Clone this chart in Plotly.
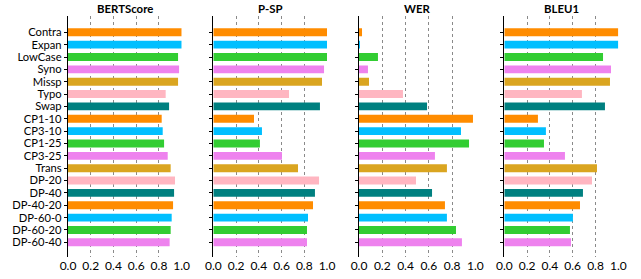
import plotly.graph_objects as go

categories = ["Contra", "Expan", "LowCase", "Syno", "Missp", "Typo", "Swap",
              "CP1-10", "CP3-10", "CP1-25", "CP3-25", "Trans", "DP-20", "DP-40",
              "DP-40-20", "DP-60-0", "DP-60-20", "DP-60-40"]

bertscore = [1.0, 1.0, 0.968, 0.977, 0.968, 0.859, 0.889, 0.824, 0.833,
             0.845, 0.877, 0.903, 0.941, 0.933, 0.924, 0.912, 0.903, 0.894]
psp = [1.0, 1.0, 1.0, 0.974, 0.956, 0.666, 0.938, 0.358, 0.428,
       0.41, 0.604, 0.745, 0.930, 0.894, 0.877, 0.833, 0.824, 0.824]
wer = [0.026, 0.006, 0.163, 0.077, 0.086, 0.378, 0.585, 0.98, 0.877,
       0.946, 0.653, 0.756, 0.49, 0.628, 0.739, 0.756, 0.834, 0.885]
bleu1 = [1.0, 1.0, 0.866, 0.936, 0.927, 0.681, 0.883, 0.295, 0.365,
         0.348, 0.532, 0.813, 0.769, 0.69, 0.664, 0.602, 0.576, 0.585]

panel_titles = ["BERTScore", "P-SP", "WER", "BLEU1"]
panel_values = [bertscore, psp, wer, bleu1]
tick_vals = [0.0, 0.2, 0.4, 0.6, 0.8, 1.0]

palette = ["#FF8C00", "#00BFFF", "#32CD32", "#EE82EE", "#DAA520", "#FFB6C1", "#008080"]
bar_colors = [palette[i % len(palette)] for i in range(len(categories))]

W, H = 641, 279
# panel pixel extents (left, right)
panels_px = [(68, 181.7), (213.3, 327), (359, 475.3), (504.3, 618.3)]
y_top, y_bot = 16, 257
font_family = "Lato, 'Open Sans', sans-serif"

fig = go.Figure()
layout = dict(
    width=W, height=H,
    margin=dict(l=0, r=0, t=0, b=0, autoexpand=False),
    paper_bgcolor="white", plot_bgcolor="white",
    showlegend=False,
    font=dict(family=font_family, size=12, color="black"),
    annotations=[],
)

n = len(categories)
for i, (title, vals) in enumerate(zip(panel_titles, panel_values)):
    sfx = "" if i == 0 else str(i + 1)
    fig.add_trace(go.Bar(
        y=categories, x=vals, orientation="h",
        marker=dict(color=bar_colors, line=dict(width=0)),
        width=0.64,
        xaxis="x" + sfx, yaxis="y" + sfx,
        hoverinfo="x+y",
    ))
    l, r = panels_px[i]
    layout["xaxis" + sfx] = dict(
        domain=[l / W, r / W], anchor="y" + sfx,
        range=[0, 1.0], tickmode="array", tickvals=tick_vals,
        ticktext=[f"{v:.1f}" for v in tick_vals],
        showgrid=True, gridcolor="#8a8a8a", griddash="dot", gridwidth=1,
        zeroline=False, showline=False, ticks="", automargin=False,
        tickfont=dict(size=12, color="black"),
    )
    layout["yaxis" + sfx] = dict(
        domain=[(H - y_bot) / H, (H - y_top) / H], anchor="x" + sfx,
        type="category", categoryorder="array", categoryarray=categories,
        tickmode="array", tickvals=categories, ticktext=categories,
        range=[n - 1 + 1.19, -1.32],
        showgrid=False, zeroline=False, automargin=False,
        showline=True, linecolor="black", linewidth=1.3,
        ticks="outside", ticklen=3, tickcolor="black",
        showticklabels=(i == 0),
        tickfont=dict(size=11.2, color="black"),
    )
    layout["annotations"].append(dict(
        text="<b>" + title + "</b>", xref="paper", yref="paper",
        x=(l + r) / 2 / W, y=(H - 8) / H, xanchor="center", yanchor="middle",
        showarrow=False, font=dict(size=11.4, color="black", family=font_family),
    ))

fig.update_layout(**layout)
fig.write_html("out.html",
               config={"displayModeBar": False},
               post_script="document.body.style.margin='0';document.body.style.overflow='hidden';")
